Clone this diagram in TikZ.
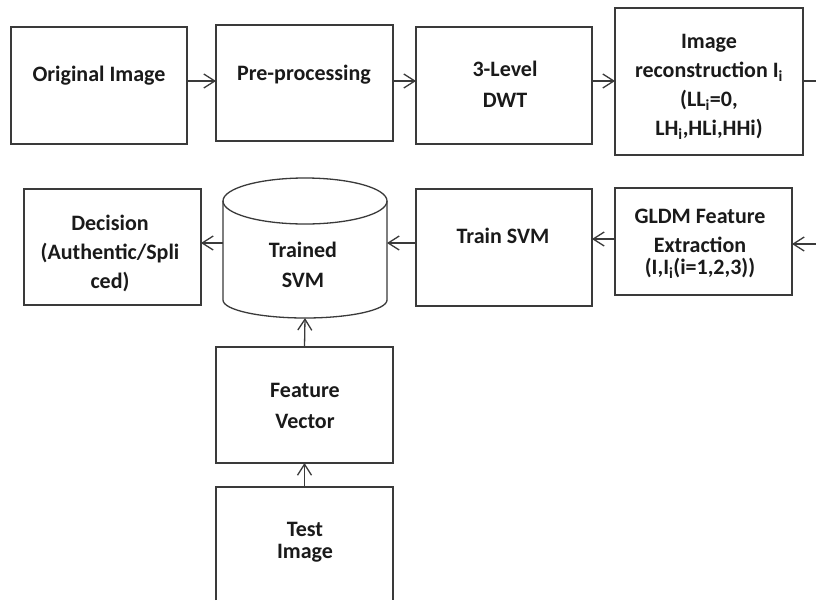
\documentclass[tikz,border=0pt]{standalone}
\usepackage{fontspec}
\setmainfont{Carlito}
\usetikzlibrary{arrows.meta}
\definecolor{ln}{HTML}{3A3A3A}
\definecolor{tx}{HTML}{1A1A1A}
\begin{document}
\begin{tikzpicture}[x=1pt,y=1pt,
  box/.style={draw=ln, line width=1.3pt, inner sep=0pt, outer sep=0pt},
  ghost/.style={inner sep=0pt, outer sep=0pt},
  lbl/.style={text=tx, align=center, inner sep=0pt, font=\fontsize{22}{29}\selectfont\bfseries},
  arr/.style={draw=ln, line width=1.3pt, -{Straight Barb[length=11pt,width=14pt,line width=1.3pt]}},
  stub/.style={draw=ln, line width=1.3pt}]
\path[use as bounding box, fill=white] (0,0) rectangle (816,-600);

% boxes
\node[box, minimum width=176, minimum height=117] (orig)  at (99,-85.5) {};
\node[box, minimum width=177, minimum height=116] (pre)   at (304.5,-83) {};
\node[box, minimum width=176, minimum height=117] (dwt)   at (504,-85.5) {};
\node[box, minimum width=188, minimum height=147] (rec)   at (709,-81.5) {};
\node[box, minimum width=177, minimum height=116] (dec)   at (112.5,-247) {};
\node[box, minimum width=176, minimum height=117] (train) at (504,-247.5) {};
\node[box, minimum width=177, minimum height=107] (gldm)  at (703.5,-241.5) {};
\node[box, minimum width=177, minimum height=116] (fv)    at (304.5,-405) {};
\node[ghost, minimum width=177, minimum height=113] (test) at (304.5,-543.5) {};
\draw[draw=ln, line width=1.3pt] (test.south west) -- (test.north west) -- (test.north east) -- (test.south east);

% cylinder
\node[ghost, minimum width=164, minimum height=140] (cyl) at (305,-248) {};
\draw[draw=ln, line width=1.3pt] (305,-201) ellipse [x radius=82, y radius=23];
\draw[draw=ln, line width=1.3pt] (223,-201) -- (223,-300)
   arc[start angle=180, end angle=360, x radius=82, y radius=18] -- (387,-201);

% labels
\node[lbl] (torig) at (99,-75.5) {Original Image};
\node[lbl] (tpre) at (304,-75) {Pre-processing};
\node[lbl] (tdwt) at (505,-84) {3-Level\\[2pt]DWT};
\node[lbl] (trec) at (709,-87) {Image\\reconstruction I\textsubscript{i}\\(LL\textsubscript{i}=0,\\LH\textsubscript{i},HLi,HHi)};
\node[lbl] (tdec) at (110,-253) {Decision\\(Authentic/Spli\\ced)};
\node[lbl] (tcyl) at (303,-264.5) {Trained\\[1pt]SVM};
\node[lbl] (ttrain) at (503,-236) {Train SVM};
\node[lbl] (tgldm) at (700,-243.5) {GLDM Feature\\Extraction\\[-7pt](I,I\textsubscript{i}(i=1,2,3))};
\node[lbl] (tfv) at (305,-406) {Feature\\[2pt]Vector};
\node[lbl] (ttest) at (305,-542.5) {Test\\[-7pt]Image};

% connector rows
\coordinate (r1) at (0,-81);
\coordinate (r2) at (0,-243);
\coordinate (r3) at (0,-239);
\coordinate (r4) at (0,-244);
\coordinate (e1) at (816,-81);
\coordinate (e2) at (816,-244);

\draw[arr] (orig.east |- r1) -- (pre.west |- r1);
\draw[arr] (pre.east |- r1) -- (dwt.west |- r1);
\draw[arr] (dwt.east |- r1) -- (rec.west |- r1);
\draw[stub] (rec.east |- r1) -- (e1);
\draw[arr] (e2) -- (gldm.east |- r4);
\draw[arr] (gldm.west |- r3) -- (train.east |- r3);
\draw[arr] (train.west |- r2) -- (cyl.east |- r2);
\draw[arr] (cyl.west |- r2) -- (dec.east |- r2);
\draw[arr] (fv.north) -- (cyl.south);
\draw[arr] (test.north) -- (fv.south);
\end{tikzpicture}
\end{document}
